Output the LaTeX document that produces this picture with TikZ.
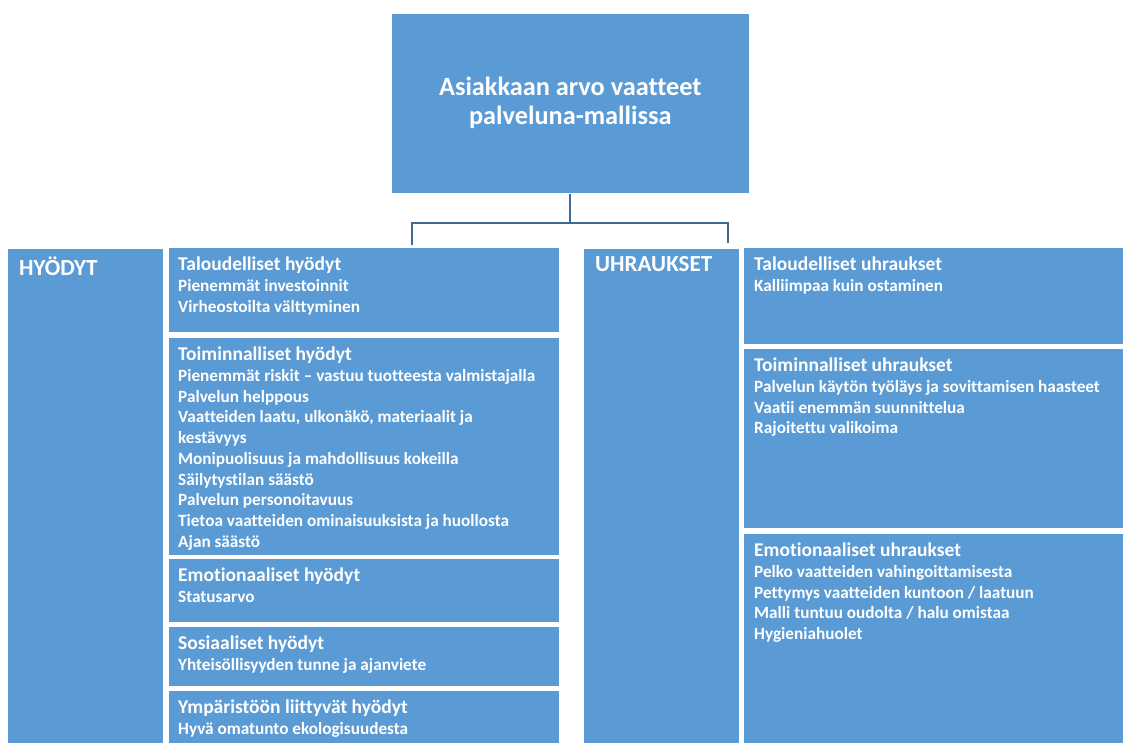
\documentclass[tikz,border=0pt]{standalone}
\usepackage{fontspec}
\setmainfont{Carlito}[Ligatures=NoCommon]
\usepackage{xcolor}
\usepackage{tikz}
\usetikzlibrary{positioning,calc}
\definecolor{boxblue}{HTML}{5B9BD5}
\definecolor{linkblue}{HTML}{3F6A92}

\begin{document}
\begin{tikzpicture}[x=1pt, y=-1pt,
  box/.style={rectangle, fill=boxblue, draw=white, line width=0.6pt, anchor=north west, inner sep=0pt},
  txt/.style={anchor=north west, inner sep=0pt, align=left, text=white, font=\fontsize{17.2}{20.7}\selectfont\bfseries},
  group/.style={anchor=north west, inner sep=0pt, text=white, font=\fontsize{23}{26}\selectfont\bfseries},
  link/.style={draw=linkblue, line width=1.8pt}
]
\useasboundingbox (0,0) rectangle (1123,742);

\node[box, minimum width=358, minimum height=180] (title) at (391,13) {};
\node[align=center, text=white, font=\fontsize{26.3}{29}\selectfont\bfseries] (titletxt) at (title.center) {Asiakkaan arvo vaatteet\\palveluna-mallissa};

\node[box, minimum width=156, minimum height=510] (hyodyt) at (7,248) {};
\node[box, minimum width=391, minimum height=85] (talh) at (168,247) {};
\node[box, minimum width=391, minimum height=218] (toih) at (168,337) {};
\node[box, minimum width=391, minimum height=64] (emoh) at (168,558) {};
\node[box, minimum width=391, minimum height=60] (sosh) at (168,626) {};
\node[box, minimum width=391, minimum height=70] (ymph) at (168,690) {};

\node[box, minimum width=156, minimum height=510] (uhr) at (583,248) {};
\node[box, minimum width=400, minimum height=97] (talu) at (743,247) {};
\node[box, minimum width=400, minimum height=180] (toiu) at (743,348) {};
\node[box, minimum width=400, minimum height=227] (emou) at (743,533) {};

\draw[link] (title.south) -- ++(0,29) coordinate (fork);
\draw[link] (fork) -| ([xshift=48.5pt,yshift=2pt]talh.north);
\draw[link] (fork) -| ([xshift=67pt,yshift=5pt]uhr.north);

\node[group] (hyodytxt) at ([xshift=12pt,yshift=-8.5pt]hyodyt.north west) {HYÖDYT};
\node[group] (uhrtxt) at ([xshift=12pt,yshift=-8.5pt]uhr.north west) {UHRAUKSET};

\node[txt] (talhtxt) at ([xshift=10pt,yshift=-10pt]talh.north west) {{\fontsize{19.5}{20}\selectfont Taloudelliset hyödyt}\\Pienemmät investoinnit\\Virheostoilta välttyminen};
\node[txt] (toihtxt) at ([xshift=10pt,yshift=-10pt]toih.north west) {{\fontsize{19.5}{20}\selectfont Toiminnalliset hyödyt}\\Pienemmät riskit – vastuu tuotteesta valmistajalla\\Palvelun helppous\\Vaatteiden laatu, ulkonäkö, materiaalit ja\\kestävyys\\Monipuolisuus ja mahdollisuus kokeilla\\Säilytystilan säästö\\Palvelun personoitavuus\\Tietoa vaatteiden ominaisuuksista ja huollosta\\Ajan säästö};
\node[txt] (emohtxt) at ([xshift=10pt,yshift=-10pt]emoh.north west) {{\fontsize{19.5}{20}\selectfont Emotionaaliset hyödyt}\\Statusarvo};
\node[txt] (soshtxt) at ([xshift=10pt,yshift=-10pt]sosh.north west) {{\fontsize{19.5}{20}\selectfont Sosiaaliset hyödyt}\\Yhteisöllisyyden tunne ja ajanviete};
\node[txt] (ymphtxt) at ([xshift=10pt,yshift=-10pt]ymph.north west) {{\fontsize{19.5}{20}\selectfont Ympäristöön liittyvät hyödyt}\\Hyvä omatunto ekologisuudesta};

\node[txt] (talutxt) at ([xshift=11pt,yshift=-10pt]talu.north west) {{\fontsize{19.5}{20}\selectfont Taloudelliset uhraukset}\\Kalliimpaa kuin ostaminen};
\node[txt] (toiutxt) at ([xshift=11pt,yshift=-10pt]toiu.north west) {{\fontsize{19.5}{20}\selectfont Toiminnalliset uhraukset}\\Palvelun käytön työläys ja sovittamisen haasteet\\Vaatii enemmän suunnittelua\\Rajoitettu valikoima};
\node[txt] (emoutxt) at ([xshift=11pt,yshift=-10pt]emou.north west) {{\fontsize{19.5}{20}\selectfont Emotionaaliset uhraukset}\\Pelko vaatteiden vahingoittamisesta\\Pettymys vaatteiden kuntoon / laatuun\\Malli tuntuu oudolta / halu omistaa\\Hygieniahuolet};

\end{tikzpicture}
\end{document}
